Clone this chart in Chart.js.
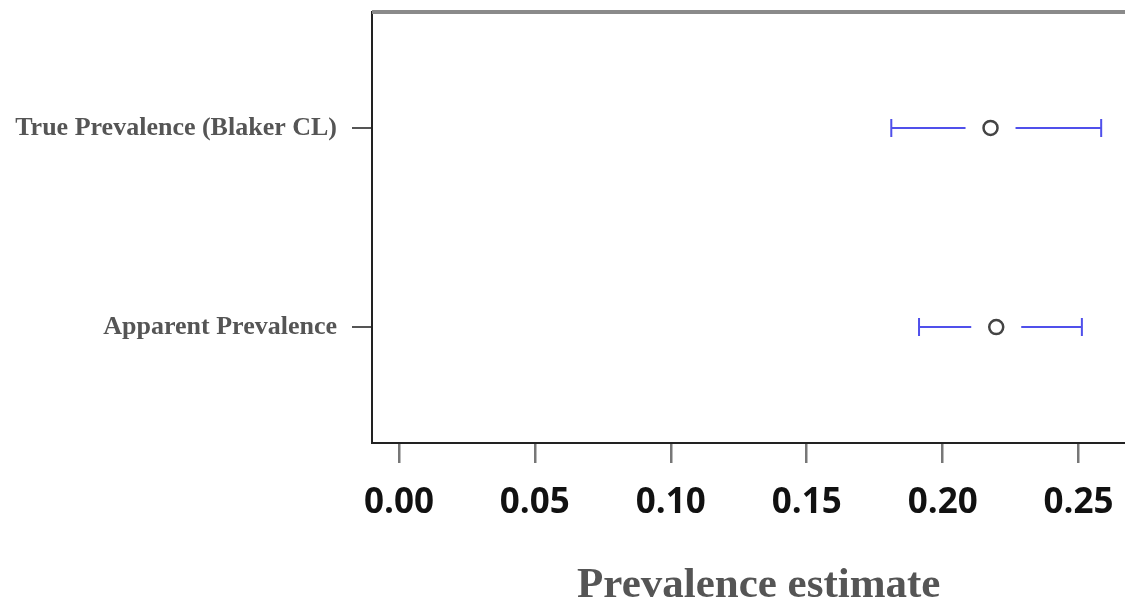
<!DOCTYPE html>
<html>
<head>
<meta charset="utf-8">
<script src="https://cdn.jsdelivr.net/npm/chart.js@4/dist/chart.umd.min.js"></script>
<style>
  body { margin: 0; background: #fff; overflow: hidden; }
  /* the plot frame continues past the right edge of the 1125px picture */
  #wrap { width: 1155px; height: 603px; }
</style>
</head>
<body>
<div id="wrap"><canvas id="myChart"></canvas></div>
<script>
const categories = ["True Prevalence (Blaker CL)", "Apparent Prevalence"];
const estimates = [0.2176, 0.2197];
const lowerCL = [0.1811, 0.1913];
const upperCL = [0.2583, 0.2512];
const xTicks = [0.00, 0.05, 0.10, 0.15, 0.20, 0.25];
const rows = [1, 2];

const ctx = document.querySelector("#myChart").getContext("2d");

// blue whisker lines with a gap around the point, plus the grey top frame
const errorBars = {
    id: "errorBars",
    beforeDatasetsDraw(chart) {
        const c = chart.ctx;
        const xs = chart.scales.x;
        const ys = chart.scales.y;
        const gap = 25;
        c.save();
        c.strokeStyle = "rgb(80, 80, 235)";
        c.lineWidth = 2;
        rows.forEach((r, i) => {
            const y = ys.getPixelForValue(r);
            const xl = xs.getPixelForValue(lowerCL[i]);
            const xu = xs.getPixelForValue(upperCL[i]);
            const xe = xs.getPixelForValue(estimates[i]);
            c.beginPath();
            c.moveTo(xl, y); c.lineTo(xe - gap, y);
            c.moveTo(xe + gap, y); c.lineTo(xu, y);
            c.moveTo(xl, y - 9); c.lineTo(xl, y + 9);
            c.moveTo(xu, y - 9); c.lineTo(xu, y + 9);
            c.stroke();
        });
        const a = chart.chartArea;
        c.strokeStyle = "#8a8a8a";
        c.lineWidth = 4;
        c.beginPath();
        c.moveTo(a.left, a.top);
        c.lineTo(a.right, a.top);
        c.stroke();
        c.restore();
    }
};

new Chart(ctx, {
    type: "scatter",
    data: {
        datasets: [{
            label: "Prevalence",
            data: rows.map((r, i) => ({ x: estimates[i], y: r })),
            pointStyle: "circle",
            pointRadius: 7,
            pointBorderWidth: 2.5,
            borderColor: "#444",
            backgroundColor: "#fff"
        }]
    },
    options: {
        responsive: true,
        maintainAspectRatio: false,
        animation: false,
        layout: { padding: { top: 12, right: 0, bottom: 0, left: 0 } },
        plugins: {
            legend: { display: false },
            tooltip: { enabled: false }
        },
        scales: {
            x: {
                type: "linear",
                min: -0.0099,
                max: 0.2746,
                afterBuildTicks: axis => { axis.ticks = xTicks.map(v => ({ value: v })); },
                afterFit: axis => {
                    axis.height = 160;
                    axis.paddingLeft = 0;
                    axis.paddingRight = 0;
                },
                border: { display: true, color: "#222", width: 2 },
                grid: { drawOnChartArea: false, drawTicks: true, tickLength: 20, color: "#777", lineWidth: 2.5 },
                ticks: {
                    padding: 19,
                    color: "#111",
                    font: { family: "Open Sans", size: 35, weight: "bold" },
                    callback: v => v.toFixed(2)
                },
                title: {
                    display: true,
                    text: "Prevalence estimate",
                    color: "#555",
                    padding: 0,
                    font: { family: "Liberation Serif", size: 43, weight: "bold", lineHeight: 0.8 }
                }
            },
            y: {
                type: "linear",
                reverse: true,
                min: 0.418,
                max: 2.582,
                afterBuildTicks: axis => { axis.ticks = rows.map(v => ({ value: v })); },
                afterFit: axis => {
                    axis.width = 372;
                    axis.paddingTop = 0;
                    axis.paddingBottom = 0;
                },
                border: { display: true, color: "#222", width: 2 },
                grid: { drawOnChartArea: false, drawTicks: true, tickLength: 20, color: "#555", lineWidth: 2 },
                ticks: {
                    padding: 15,
                    color: "#555",
                    font: { family: "Liberation Serif", size: 26, weight: "bold" },
                    callback: v => categories[v - 1]
                }
            }
        }
    },
    plugins: [errorBars]
});
</script>
</body>
</html>
